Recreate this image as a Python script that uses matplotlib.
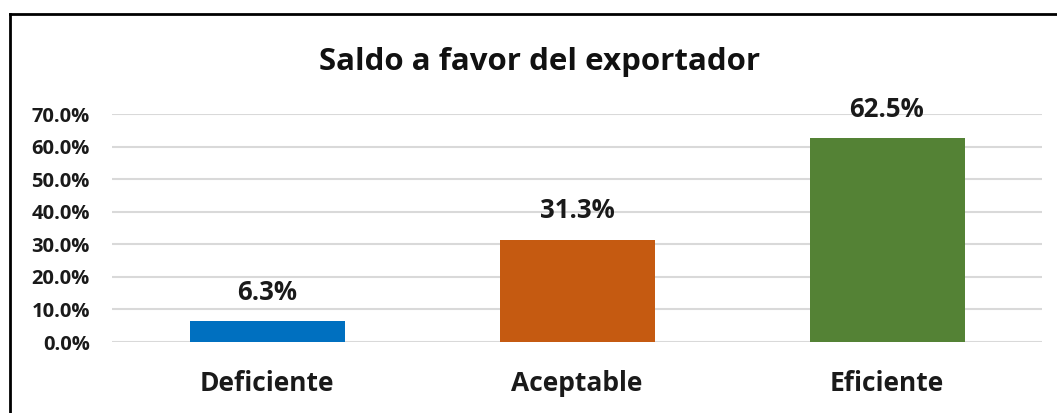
import matplotlib
matplotlib.use("Agg")
import matplotlib.pyplot as plt
from matplotlib.lines import Line2D
from matplotlib.ticker import FuncFormatter, MultipleLocator

categories = ["Deficiente", "Aceptable", "Eficiente"]
values = [6.3, 31.3, 62.5]
value_labels = ["6.3%", "31.3%", "62.5%"]
colors = ["#0070C0", "#C55A11", "#548235"]
title = "Saldo a favor del exportador"

plt.rcParams['font.family'] = ['Open Sans', 'DejaVu Sans']

W, H = 1057, 413
fig = plt.figure(figsize=(W / 100, H / 100), dpi=100)
ax = fig.add_axes([112 / W, 1 - 342 / H, (1042 - 112) / W, (342 - 114) / H])

x = list(range(len(categories)))
ax.bar(x, values, width=0.5, color=colors, zorder=3)
ax.set_xlim(-0.5, len(categories) - 0.5)
ax.set_ylim(0, 70)
ax.yaxis.set_major_locator(MultipleLocator(10))
ax.yaxis.set_major_formatter(FuncFormatter(lambda v, p: f"{v:.1f}%"))
ax.grid(axis='y', color='#D9D9D9', linewidth=1.5, zorder=0)
for s in ax.spines.values():
    s.set_visible(False)
ax.tick_params(axis='both', length=0)
ax.tick_params(axis='y', pad=16, labelsize=14.5)
ax.set_xticks(x)
ax.set_xticklabels(categories, fontsize=19, fontweight='bold', color='#1a1a1a')
ax.tick_params(axis='x', pad=20)
for lbl in ax.get_yticklabels():
    lbl.set_fontweight('bold')
    lbl.set_color('#1a1a1a')

for xi, v, t in zip(x, values, value_labels):
    ax.annotate(t, (xi, v), xytext=(0, 21), textcoords='offset points',
                ha='center', va='center', fontsize=18.5, fontweight='bold',
                color='#1a1a1a')

fig.text(540 / W, 1 - 62 / H, title, ha='center', va='center',
         fontsize=22.5, fontweight='bold', color='#111111')

# outer frame (left and top edges visible)
fig.add_artist(Line2D([10 / W, 10 / W], [0, 1 - 14 / H], transform=fig.transFigure,
                      color='black', linewidth=2))
fig.add_artist(Line2D([10 / W, 1], [1 - 14 / H, 1 - 14 / H], transform=fig.transFigure,
                      color='black', linewidth=2))

fig.savefig("out.png", dpi=100)
